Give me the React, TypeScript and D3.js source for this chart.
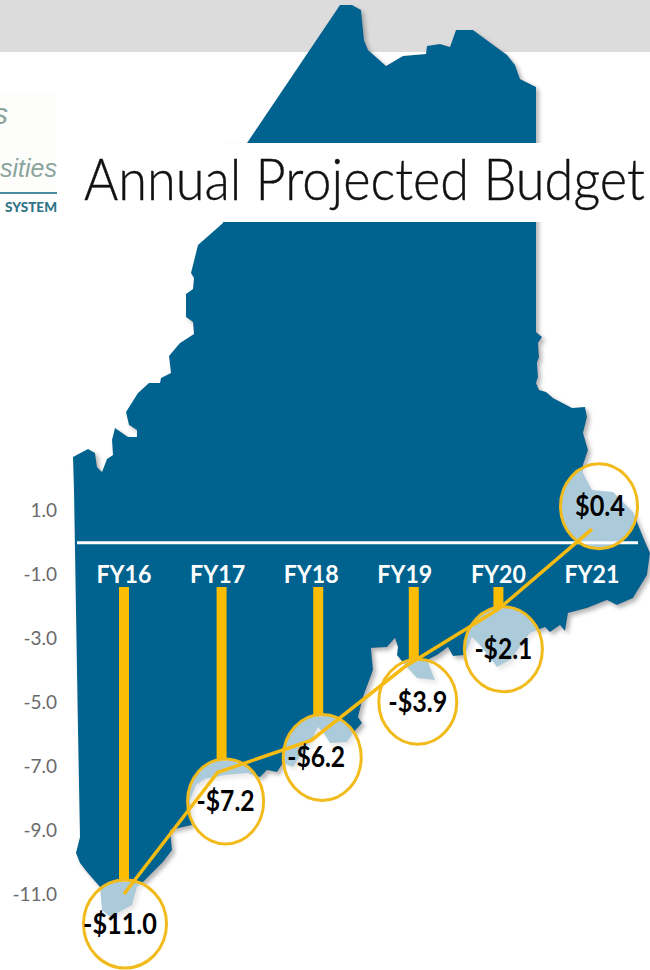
import React from "react";
import * as d3 from "d3";

const years = ["FY16", "FY17", "FY18", "FY19", "FY20", "FY21"];
const budget = [-11.0, -7.2, -6.2, -3.9, -2.1, 0.4];
const valueLabels = ["-$11.0", "-$7.2", "-$6.2", "-$3.9", "-$2.1", "$0.4"];
const yTicks = [1, -1, -3, -5, -7, -9, -11];

// callout placement relative to each point
const calloutDx = [1, 8, 11, 13, 5, 7];
const calloutDy = [30, 29, 17, 35, 40, -23];
const calloutRx = [41.5, 38, 39, 39, 39, 38.5];
const calloutRy = [44, 42.5, 43, 42.5, 42.5, 42.5];
const labelDx = [-5, 0, -6, 0, 0, 1];
const labelWidth = [74, 58, 58, 59, 58, 50];
const barNudge = [0, 4, 7, 9, 0];

// decorative silhouette behind the chart
const mapOutline: [number, number][] = [
  [247,143],[340,5],[352,5],[361,10],[364,40],[368,50],[386,66],[403,56],[426,54],[427,46],[440,44],[450,47],[456,30],[473,30],
  [507,55],[515,65],[520,79],[528,83],[536,87],[536,332],[542,337],[538,343],[539,357],[537,363],[538,377],[536,383],[539,390],
  [546,392],[553,398],[572,408],[585,407],[587,417],[583,433],[588,450],[583,465],[583,473],[592,490],[613,492],[633,512],
  [643,537],[650,553],[647,575],[633,598],[617,605],[607,600],[587,608],[568,613],[565,631],[560,625],[550,632],[545,627],
  [530,633],[510,660],[497,667],[480,645],[472,637],[465,655],[453,656],[448,647],[437,655],[427,660],[435,680],[417,678],
  [405,665],[397,655],[398,647],[395,638],[387,647],[371,648],[373,670],[363,697],[358,717],[362,723],[353,733],[347,742],
  [330,743],[325,735],[318,727],[313,737],[293,767],[283,763],[277,772],[267,770],[260,777],[252,775],[248,773],[225,775],
  [205,779],[196,785],[190,800],[191,822],[192,825],[170,830],[172,850],[163,862],[143,882],[137,887],[132,905],[110,917],[102,910],[100,887],[87,872],
  [80,863],[76,853],[80,837],[78,730],[74,490],[73,457],[88,449],[95,453],[97,467],[102,472],[107,459],[113,455],[112,440],
  [115,428],[128,437],[137,437],[137,430],[129,425],[126,412],[138,393],[149,383],[160,383],[161,378],[171,373],[169,356],
  [180,343],[194,334],[193,322],[186,317],[186,294],[193,289],[194,278],[191,273],[198,245],[223,223],[223,143],
];

const y = d3.scaleLinear().domain([1, -11]).range([510, 894]);
const x = d3.scalePoint<string>().domain(years).range([124, 592]);
const mapPath = d3.line()(mapOutline) ?? "";
const trend = d3.line<number>().x((_, i) => x(years[i]) as number).y((d) => y(d));

const sans = "Lato, 'Open Sans', sans-serif";
const logo = "'Liberation Sans', sans-serif";
const BLUE = "#02648f";
const GOLD = "#fbbc04";

export default function App() {
  return (
    <svg width={650} height={970} viewBox="0 0 650 970" style={{ position: "absolute", left: 0, top: 0, background: "#fff" }}>
      <defs>
        <filter id="soft" x="-10%" y="-10%" width="120%" height="120%">
          <feDropShadow dx={3} dy={3} stdDeviation={2} floodColor="#777" floodOpacity={0.55} />
        </filter>
      </defs>
      <rect x={0} y={0} width={650} height={52} fill="#dcdcdc" />
      <path d={mapPath} fill={BLUE} filter="url(#soft)" />

      {/* title band */}
      <rect x={0} y={143} width={650} height={79} fill="#fff" />
      <rect x={0} y={93} width={55} height={100} fill="#fdfdfb" />
      <text x={8} y={124} textAnchor="end" fontFamily={logo} fontStyle="italic" fontSize={30} fill="#8ba49d">s</text>
      <text x={57} y={177} textAnchor="end" fontFamily={logo} fontStyle="italic" fontSize={25} fill="#8ba49d">sities</text>
      <rect x={0} y={192} width={57} height={2} fill="#4a8c9e" />
      <text x={5} y={212} textLength={52} lengthAdjust="spacingAndGlyphs" fontFamily={sans} fontWeight={900} fontSize={14} fill="#2f7387">SYSTEM</text>
      <text x={84} y={200} textLength={561} lengthAdjust="spacingAndGlyphs" fontFamily={sans} fontWeight={300} fontSize={57} fill="#111" stroke="#111" strokeWidth={0.4}>Annual Projected Budget</text>

      {/* y axis labels */}
      {yTicks.map((t) => (
        <text key={t} x={57} y={y(t) + 7} textAnchor="end" fontFamily={sans} fontSize={19} fill="#6a6a6a">{t.toFixed(1)}</text>
      ))}

      {/* zero line */}
      <line x1={77} x2={638} y1={y(0) + 0.7} y2={y(0) + 0.7} stroke="#fff" strokeWidth={3} />

      {/* category labels */}
      {years.map((c) => (
        <text key={c} x={x(c)} y={583} textAnchor="middle" textLength={55} lengthAdjust="spacingAndGlyphs" fontFamily={sans} fontWeight={700} fontSize={25} fill="#fff">{c}</text>
      ))}

      {/* bars end at the top of the callout */}
      {barNudge.map((n, i) => {
        const top = 587;
        const bottom = y(budget[i]) + calloutDy[i] - calloutRy[i] + 2;
        return <rect key={i} x={(x(years[i]) as number) + n - 5} y={top} width={10} height={bottom - top} fill={GOLD} />;
      })}

      {/* callouts */}
      {budget.map((v, i) => (
        <ellipse key={i} cx={(x(years[i]) as number) + calloutDx[i]} cy={y(v) + calloutDy[i]} rx={calloutRx[i]} ry={calloutRy[i]}
          fill="#fff" fillOpacity={0.67} stroke="#f2bb1d" strokeWidth={3} />
      ))}

      <path d={trend(budget) ?? ""} fill="none" stroke="#f5bb12" strokeWidth={3.5} />

      {budget.map((v, i) => (
        <text key={i} x={(x(years[i]) as number) + calloutDx[i] + labelDx[i]} y={y(v) + calloutDy[i] + 10} textAnchor="middle"
          textLength={labelWidth[i]} lengthAdjust="spacingAndGlyphs" fontFamily={sans} fontWeight={700} fontSize={28} fill="#000">{valueLabels[i]}</text>
      ))}
    </svg>
  );
}
